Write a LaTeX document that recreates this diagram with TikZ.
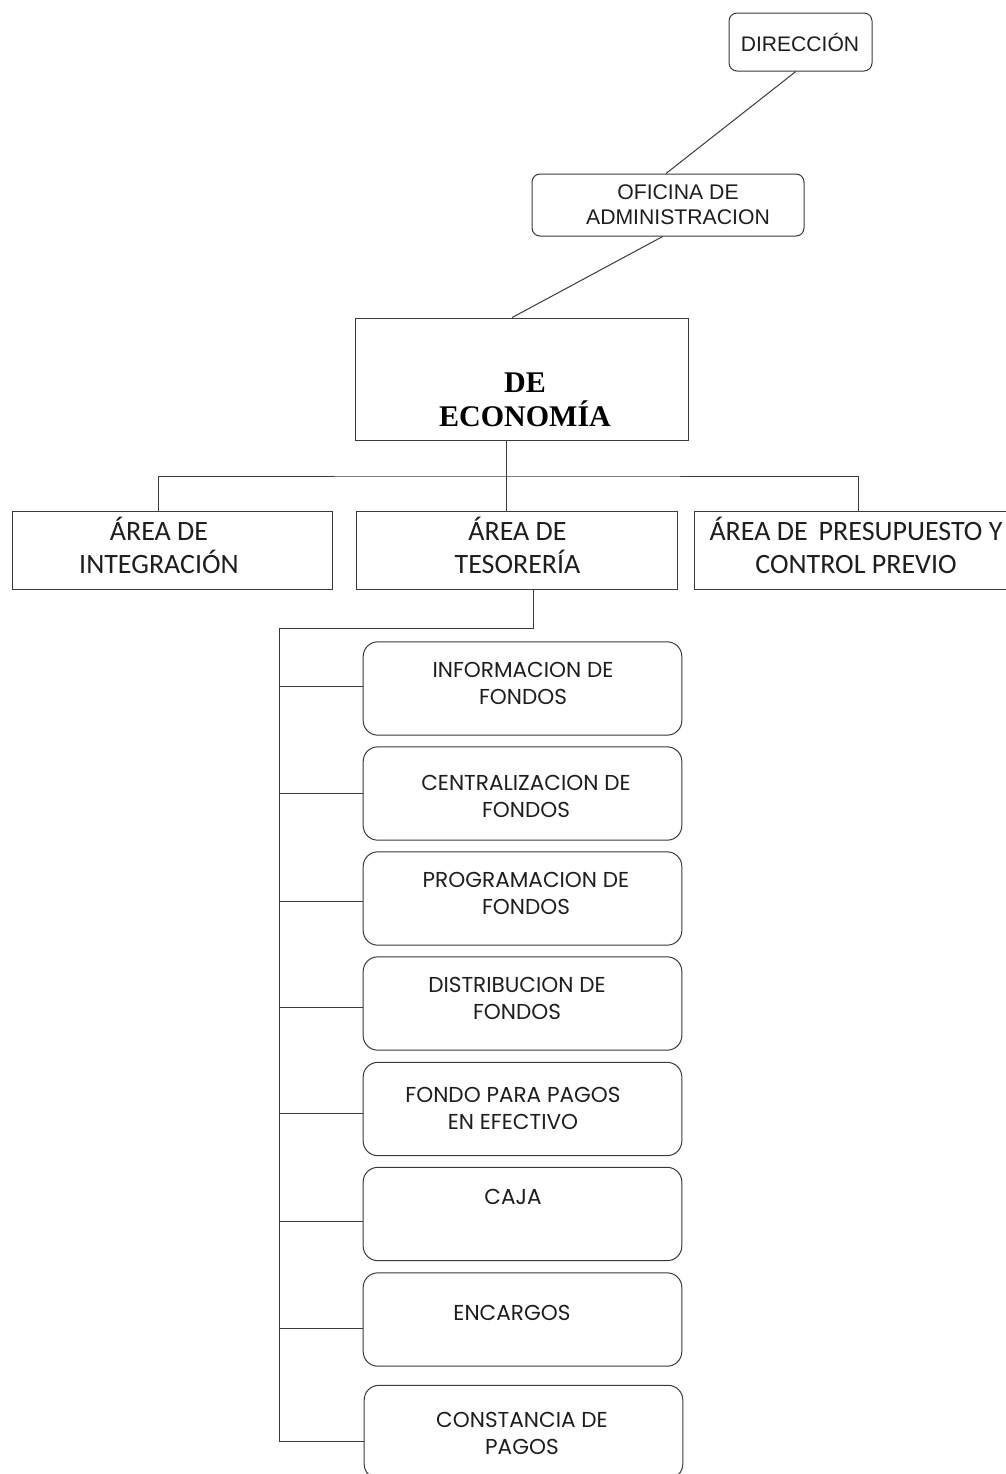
\documentclass[tikz,border=0pt]{standalone}
\usepackage{fontspec}
\setmainfont{Liberation Sans}
\newfontfamily\gothic{Poppins}
\newfontfamily\areafont{Carlito}
\newfontfamily\serifb{Liberation Serif}
\definecolor{ln}{HTML}{3A3A3A}
\definecolor{tx}{HTML}{1E1E1E}
\tikzset{
  topbox/.style={draw=ln, line width=0.75pt, rounded corners=6pt, inner sep=0pt},
  ecobox/.style={draw=ln, line width=0.75pt, inner sep=0pt},
  areabox/.style={draw=ln, line width=0.75pt, inner sep=0pt, minimum height=58.5pt},
  subbox/.style={draw=ln, line width=0.75pt, rounded corners=11pt, inner sep=0pt, minimum width=239pt, minimum height=70pt},
  subtxt/.style={text=tx, align=center, inner sep=0pt, font=\gothic\fontsize{16.2}{20.2}\selectfont},
  areatxt/.style={text=tx, align=center, inner sep=0pt, font=\areafont\fontsize{21}{24.8}\selectfont},
  conn/.style={draw=ln, line width=0.75pt},
}
\begin{document}
\begin{tikzpicture}[x=0.75pt, y=-0.75pt]
\useasboundingbox (0,0) rectangle (1006,1474);
\fill[white] (0,0) rectangle (1006,1474);

% top boxes
\node[topbox, minimum width=107.25pt, minimum height=43.5pt] (dir) at (800.5,42) {};
\node[text=tx, inner sep=0pt, font=\fontsize{15.8}{18}\selectfont] (dirt) at (800,42) {DIRECCIÓN};
\node[topbox, minimum width=204pt, minimum height=46.5pt] (ofi) at (668,205) {};
\node[text=tx, align=center, inner sep=0pt, font=\fontsize{15.9}{18.75}\selectfont] (ofit) at (678,204.5) {OFICINA DE\\ADMINISTRACION};

% economia
\node[ecobox, minimum width=249.75pt, minimum height=91.5pt] (eco) at (521.5,379) {};
\node[text=black, align=center, inner sep=0pt, font=\serifb\bfseries\fontsize{22.5}{25.5}\selectfont] (ecot) at (525,400) {DE\\ECONOMÍA};

% area boxes
\node[areabox, minimum width=240pt] (ai) at (172,550) {};
\node[areabox, minimum width=240.75pt] (at) at (516.5,550) {};
\node[areabox, minimum width=244.5pt] (ap) at (857,550) {};
\node[areatxt] (ait) at (159,545.5) {ÁREA DE\\INTEGRACIÓN};
\node[areatxt] (att) at (517.5,545.5) {ÁREA DE\\TESORERÍA};
\node[areatxt] (apt) at (856,545.5) {ÁREA DE\, PRESUPUESTO Y\\CONTROL PREVIO};

% sub boxes
\node[subbox] (s1) at (522.5,688.5) {};
\node[subbox] (s2) at (522.5,793.5) {};
\node[subbox] (s3) at (522.5,898.5) {};
\node[subbox] (s4) at (522.5,1003.5) {};
\node[subbox] (s5) at (522.5,1109) {};
\node[subbox] (s6) at (522.5,1214) {};
\node[subbox] (s7) at (522.5,1319.5) {};
\node[subbox] (s8) at (523.5,1432) {};
\node[subtxt] (t1) at (523,683.5) {INFORMACION DE\\FONDOS};
\node[subtxt] (t2) at (526,796) {CENTRALIZACION DE\\FONDOS};
\node[subtxt] (t3) at (526,893.5) {PROGRAMACION DE\\FONDOS};
\node[subtxt] (t4) at (517,998) {DISTRIBUCION DE\\FONDOS};
\node[subtxt] (t5) at (513,1108) {FONDO PARA PAGOS\\EN EFECTIVO};
\node[subtxt] (t6) at (513,1197) {CAJA};
\node[subtxt] (t7) at (512,1313) {ENCARGOS};
\node[subtxt] (t8) at (522,1433.5) {CONSTANCIA DE\\PAGOS};

% connectors top
\draw[conn] ([xshift=-3.5]dir.south) -- ([xshift=-1.5]ofi.north);
\draw[conn] ([xshift=-4]ofi.south) -- ([xshift=-7]eco.north);

% bus
\coordinate (ebus) at (506,476);
\draw[conn] (eco.south -| ebus) -- (at.north -| ebus);
\draw[conn] ([xshift=-10.5]ai.north) |- (ebus) -| ([xshift=1]ap.north);

% tesoreria trunk
\coordinate (tk) at (533,628);
\coordinate (tr) at (279,628);
\coordinate (tb) at (279,1441);
\draw[conn] (at.south -| tk) -- (tk) -- (tr) -- (tb) -- (tb -| s8.west);
\foreach \i/\yy in {1/686,2/793,3/901,4/1007,5/1113,6/1221,7/1328}{
  \coordinate (bp\i) at (279,\yy);
  \draw[conn] (bp\i) -- (bp\i -| s\i.west);
}
\end{tikzpicture}
\end{document}
